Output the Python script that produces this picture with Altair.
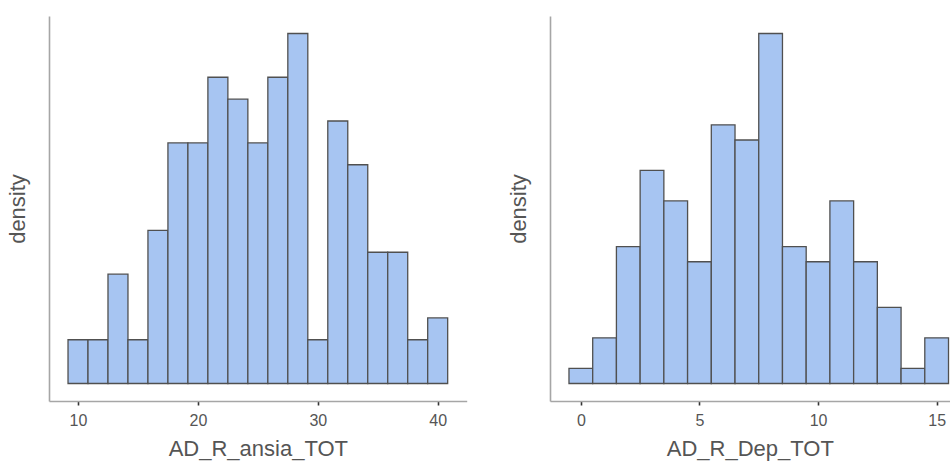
import altair as alt
import pandas as pd

# --- data (counts per bin) ---
ansia_bin_start = 10 - 5 / 6
ansia_bin_width = 5 / 3
ansia_counts = [2, 2, 5, 2, 7, 11, 11, 14, 13, 11, 14, 16, 2, 12, 10, 6, 6, 2, 3]
ansia_ticks = [10, 20, 30, 40]

dep_bin_start = -0.5
dep_bin_width = 1.0
dep_counts = [1, 3, 9, 14, 12, 8, 17, 16, 23, 9, 8, 12, 8, 5, 1, 3]
dep_ticks = [0, 5, 10, 15]


def hist_df(start, width, counts):
    n = sum(counts)
    rows = []
    for i, c in enumerate(counts):
        rows.append(dict(x0=start + i * width, x1=start + (i + 1) * width,
                         density=c / (n * width), zero=0.0))
    return pd.DataFrame(rows)


FILL = "#a7c5f2"
STROKE = "#505050"


def panel(df, title, xdom, ticks, w):
    ymax = df["density"].max()
    return alt.Chart(df).mark_rect(fill=FILL, stroke=STROKE, strokeWidth=1.3).encode(
        x=alt.X("x0:Q", scale=alt.Scale(domain=xdom, nice=False, zero=False),
                axis=alt.Axis(values=ticks, title=title, grid=False, format="d",
                              titlePadding=10)),
        x2="x1:Q",
        y=alt.Y("density:Q",
                scale=alt.Scale(domain=[-0.05 * ymax, 1.05 * ymax], nice=False, zero=False),
                axis=alt.Axis(ticks=False, labels=False, grid=False, title="density",
                              titlePadding=20)),
        y2="zero:Q",
    ).properties(width=w, height=385)


left = panel(hist_df(ansia_bin_start, ansia_bin_width, ansia_counts),
             "AD_R_ansia_TOT", [7.58, 42.42], ansia_ticks, 417.7)
right = panel(hist_df(dep_bin_start, dep_bin_width, dep_counts),
              "AD_R_Dep_TOT", [-1.3, 15.55], dep_ticks, 399.7)

chart = alt.hconcat(left, right, spacing=40).properties(
    padding={"left": 6, "top": 16, "right": 0, "bottom": 6}
).configure_view(stroke=None).configure_axis(
    domainColor="#a6a6a6", domainWidth=1.6,
    tickColor="#333333", tickSize=4, tickWidth=1.6,
    labelFont="Liberation Sans", labelFontSize=16, labelColor="#555555", labelPadding=7,
    titleFont="Liberation Sans", titleFontSize=22, titleColor="#555555",
    titleFontWeight="normal",
)

chart.save("out.html", embed_options={"renderer": "svg", "actions": False})
